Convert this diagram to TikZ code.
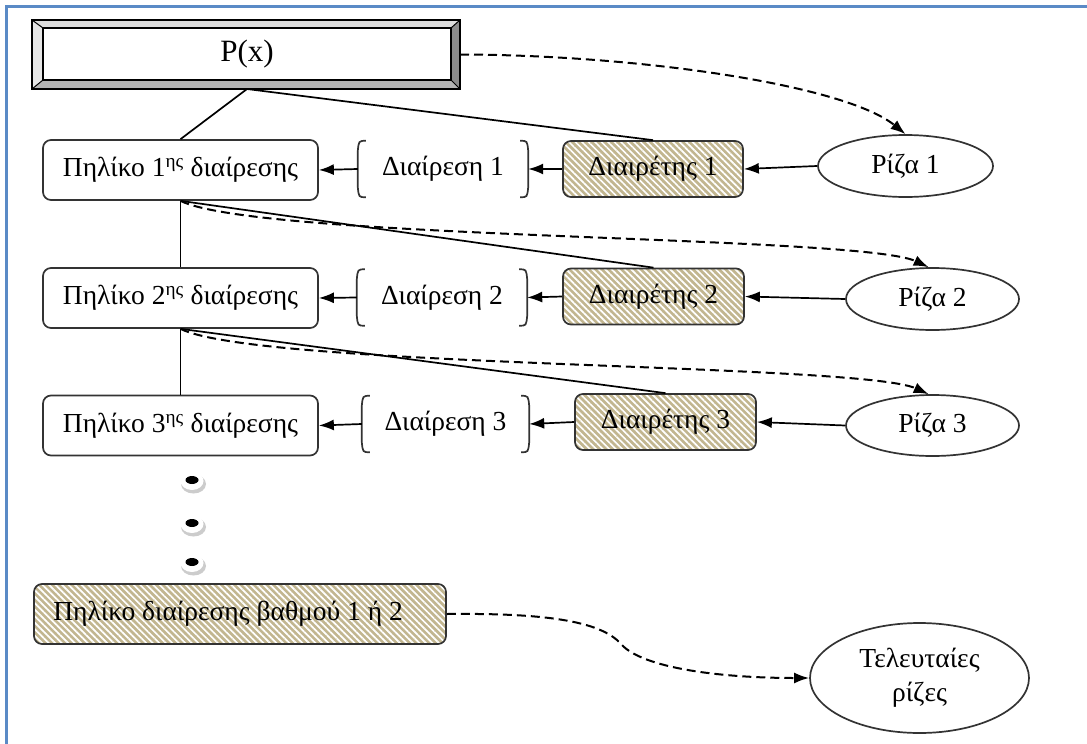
\documentclass[tikz,border=0pt]{standalone}
\usepackage{fontspec}
\setmainfont{Liberation Serif}
\usetikzlibrary{arrows.meta,patterns.meta,shapes.geometric}

\definecolor{frameblue}{HTML}{5A8AC6}
\definecolor{khaki}{HTML}{C2B690}
\definecolor{edge}{HTML}{333333}
\definecolor{bevtop}{HTML}{DCDCDC}
\definecolor{bevleft}{HTML}{E6E6E6}
\definecolor{bevright}{HTML}{8C8C8C}
\definecolor{bevbottom}{HTML}{B4B4B4}

\tikzset{
  txt/.style={font=\fontsize{27.5}{34}\selectfont, text=black, inner sep=0pt},
  quotient/.style={txt, draw=edge, line width=1.7pt, rounded corners=8pt,
    minimum width=275pt, minimum height=60pt},
  divisor/.style={txt, draw=edge, line width=1.7pt, rounded corners=8pt,
    preaction={fill=khaki},
    pattern={Lines[angle=-45, distance=4.6pt, line width=1.7pt]}, pattern color=white,
    minimum height=56pt},
  division/.style={txt, minimum height=56pt},
  root/.style={txt, ellipse, draw=edge, line width=1.7pt, fill=white},
  link/.style={draw=black, line width=1.7pt},
  arrowlink/.style={link, -{Latex[length=15pt, width=11pt]}},
  dashlink/.style={arrowlink, line width=2pt, dash pattern=on 9pt off 5pt},
  brace/.style={draw=edge, line width=1.7pt},
}

% bracket pair drawn around a division node (y axis points down)
\newcommand\bracketpair[1]{%
  \draw[brace] ([xshift=8pt]#1.north west) .. controls ([xshift=1pt]#1.north west) .. ([yshift=-10pt]#1.north west)
    -- ([yshift=10pt]#1.south west) .. controls ([xshift=1pt]#1.south west) .. ([xshift=8pt]#1.south west);
  \draw[brace] ([xshift=-8pt]#1.north east) .. controls ([xshift=-1pt]#1.north east) .. ([yshift=-10pt]#1.north east)
    -- ([yshift=10pt]#1.south east) .. controls ([xshift=-1pt]#1.south east) .. ([xshift=-8pt]#1.south east);
}

% ellipsis dot with a soft shadow
\newcommand\holedot[1]{%
  \fill[black!20] ([shift={(1.5,3)}]#1) ellipse [x radius=12.5pt, y radius=9.5pt];
  \fill[white] (#1) ellipse [x radius=11.5pt, y radius=9pt];
  \fill[black] ([yshift=1pt]#1) ellipse [x radius=6.5pt, y radius=4pt];
}

\begin{document}
\begin{tikzpicture}[x=1pt, y=-1pt]
\useasboundingbox (0,0) rectangle (1087,744);

% page frame
\draw[frameblue, line width=2.4pt] (6.5,744) -- (6.5,6.5) -- (1087,6.5);

% bevelled title box
\fill[bevtop]    (32,20) -- (460,20) -- (451,28) -- (43,28) -- cycle;
\fill[bevleft]   (32,20) -- (43,28) -- (43,80) -- (32,89) -- cycle;
\fill[bevright]  (460,20) -- (460,89) -- (451,80) -- (451,28) -- cycle;
\fill[bevbottom] (32,89) -- (460,89) -- (451,80) -- (43,80) -- cycle;
\draw[black, line width=1.6pt] (32,20) rectangle (460,89);
\draw[black, line width=1pt] (32,20) -- (43,28) (460,20) -- (451,28)
  (32,89) -- (43,80) (460,89) -- (451,80);
\node[txt, font=\fontsize{31}{36}\selectfont, draw=black, line width=1.4pt,
  minimum width=408pt, minimum height=52pt] (px) at (247,54) {P(x)};
\coordinate (pxb) at (247,89);
\coordinate (pxr) at (460,54.5);

% quotients
\node[quotient] (q1) at (180.5,170) {Πηλίκο 1\textsuperscript{ης} διαίρεσης};
\node[quotient] (q2) at (180.5,298) {Πηλίκο 2\textsuperscript{ης} διαίρεσης};
\node[quotient] (q3) at (180.5,425.5) {Πηλίκο 3\textsuperscript{ης} διαίρεσης};

% divisions
\node[division, minimum width=170pt] (d1) at (443,169) {Διαίρεση 1};
\node[division, minimum width=170pt] (d2) at (442,297.5) {Διαίρεση 2};
\node[division, minimum width=167pt] (d3) at (445.5,424) {Διαίρεση 3};
\bracketpair{d1}
\bracketpair{d2}
\bracketpair{d3}

% divisors
\node[divisor, minimum width=180pt] (v1) at (653,169) {Διαιρέτης 1};
\node[divisor, minimum width=181pt] (v2) at (653.5,296.5) {Διαιρέτης 2};
\node[divisor, minimum width=181pt] (v3) at (665.5,422) {Διαιρέτης 3};

% roots
\node[root, minimum width=175pt, minimum height=62pt] (r1) at (905.5,166) {Ρίζα 1};
\node[root, minimum width=173pt, minimum height=62pt] (r2) at (932.5,299) {Ρίζα 2};
\node[root, minimum width=173pt, minimum height=61pt] (r3) at (932.5,425.5) {Ρίζα 3};

% last quotient (text set from the left edge) and last roots
\node[divisor, minimum width=412pt, minimum height=60pt] (ql) at (240,614) {};
\node[txt, anchor=west] (qltext) at ([xshift=20pt]ql.west) {Πηλίκο διαίρεσης βαθμού 1 ή 2};
\node[root, minimum width=219pt, minimum height=110pt, align=center] (rl) at (919.5,678)
  {Τελευταίες\\ρίζες};

% ellipsis dots
\coordinate (e1) at (192,481);
\coordinate (e2) at (192,524);
\coordinate (e3) at (192,563);
\holedot{e1}
\holedot{e2}
\holedot{e3}

% tree links
\draw[link] (pxb) -- (q1.north);
\draw[link] (pxb) -- (v1.north);
\draw[link] (q1.south) -- (q2.north);
\draw[link] (q1.south) -- (v2.north);
\draw[link] (q2.south) -- (q3.north);
\draw[link] (q2.south) -- (v3.north);

% row arrows
\foreach \i in {1,2,3}{
  \draw[arrowlink] (r\i.west) -- (v\i.east);
  \draw[arrowlink] (v\i.west) -- (d\i.east);
  \draw[arrowlink] (d\i.west) -- (q\i.east);
}

% dashed links to the roots
\draw[dashlink] (pxr) .. controls (640,55) and (845,85) .. (r1.north);
\draw[dashlink] (q1.south) .. controls (260,240) and (860,235) .. (r2.97);
\draw[dashlink] (q2.south) .. controls (260,368) and (860,363) .. (r3.97);
\draw[dashlink] (ql.east) .. controls (540,613) and (600,620) .. (621,644)
  .. controls (642,668) and (720,678) .. (rl.west);
\end{tikzpicture}
\end{document}
